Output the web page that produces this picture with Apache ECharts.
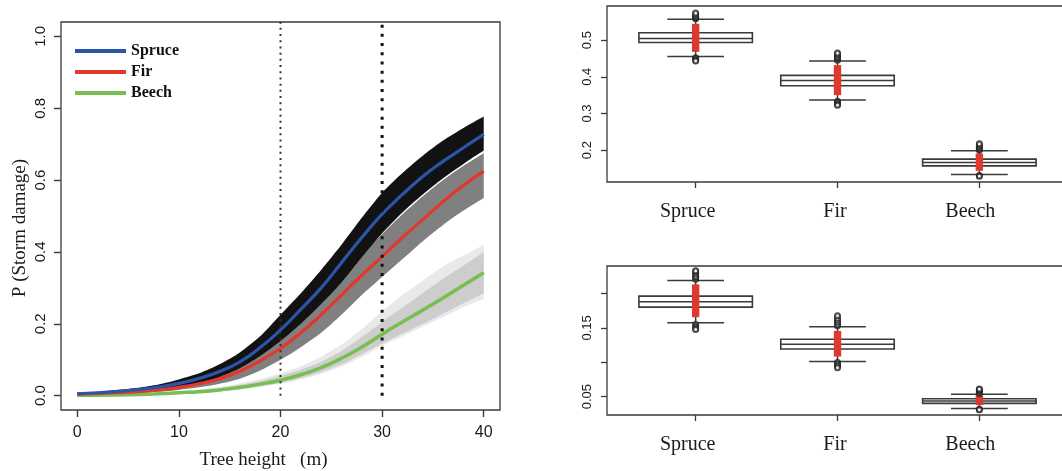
<!DOCTYPE html>
<html><head><meta charset="utf-8">
<script src="https://cdn.jsdelivr.net/npm/echarts@6/dist/echarts.min.js"></script>
<style>html,body{margin:0;padding:0;background:#fff}#c{width:1062px;height:471px}</style>
</head><body><div id="c"></div>
<script>
// ---------- Left panel: P(storm damage) vs tree height ----------
const heights = [0,2,4,6,8,10,12,14,16,18,20,22,24,26,28,30,32,34,36,38,40];
const spruceMean = [0.005,0.008,0.012,0.017,0.024,0.034,0.048,0.067,0.094,0.134,0.183,0.24,0.30,0.37,0.44,0.505,0.56,0.61,0.652,0.69,0.727];
const spruceLow  = [0.003,0.005,0.008,0.012,0.017,0.025,0.036,0.052,0.076,0.11,0.152,0.2,0.255,0.315,0.385,0.452,0.51,0.56,0.605,0.645,0.682];
const spruceHigh = [0.008,0.011,0.016,0.022,0.031,0.045,0.062,0.087,0.12,0.165,0.225,0.285,0.35,0.42,0.495,0.565,0.62,0.668,0.71,0.745,0.777];
const firMean = [0.004,0.006,0.008,0.011,0.016,0.023,0.033,0.047,0.068,0.097,0.132,0.175,0.225,0.28,0.335,0.387,0.44,0.49,0.54,0.585,0.625];
const firLow  = [0.002,0.004,0.006,0.008,0.011,0.016,0.023,0.033,0.047,0.07,0.1,0.135,0.175,0.225,0.28,0.33,0.38,0.43,0.475,0.515,0.55];
const firHigh = [0.006,0.008,0.011,0.015,0.021,0.03,0.044,0.063,0.09,0.126,0.17,0.22,0.28,0.34,0.395,0.45,0.505,0.555,0.6,0.64,0.675];
const beechMean = [0.001,0.001,0.002,0.003,0.005,0.008,0.011,0.016,0.023,0.032,0.043,0.058,0.078,0.104,0.135,0.171,0.205,0.238,0.272,0.307,0.342];
const beechLow  = [0.0,0.001,0.001,0.002,0.004,0.006,0.008,0.012,0.018,0.026,0.036,0.049,0.066,0.087,0.115,0.145,0.172,0.2,0.228,0.257,0.285];
const beechHigh = [0.002,0.002,0.003,0.005,0.007,0.011,0.015,0.021,0.03,0.041,0.055,0.072,0.094,0.124,0.163,0.205,0.245,0.285,0.325,0.362,0.40];
const beechFaintLow  = [0.0,0.001,0.001,0.002,0.003,0.005,0.007,0.011,0.016,0.024,0.033,0.045,0.061,0.081,0.108,0.138,0.165,0.192,0.219,0.246,0.27];
const beechFaintHigh = [0.002,0.003,0.004,0.006,0.008,0.012,0.017,0.024,0.034,0.046,0.062,0.082,0.108,0.142,0.185,0.235,0.28,0.32,0.36,0.39,0.42];
const refHeights = [20, 30];
const leftXTicks = [0,10,20,30,40];
const leftYTicks = [0,0.2,0.4,0.6,0.8,1.0];

// ---------- Right panels: boxplots ----------
const categories = ['Spruce','Fir','Beech'];
// [q1, median, q3, whiskerLow, whiskerHigh]
const topBoxes = [[0.4936,0.5045,0.520,0.4555,0.557],[0.3754,0.390,0.4037,0.3364,0.4427],[0.157,0.1664,0.1755,0.1337,0.198]];
const topRed = [[0.468,0.5445],[0.350,0.4318],[0.1436,0.191]];
const topOutliers = [[0.558,0.561,0.563,0.566,0.570,0.574,0.452,0.449,0.446,0.443],[0.445,0.449,0.452,0.456,0.461,0.465,0.333,0.330,0.326,0.322],[0.200,0.203,0.206,0.210,0.214,0.217,0.131,0.129]];
const topYTicks = [0.2,0.3,0.4,0.5];
const topYLabels = [0.2,0.3,0.4,0.5];
const botBoxes = [[0.180,0.1878,0.196,0.1572,0.2189],[0.1193,0.1262,0.1335,0.101,0.1514],[0.0403,0.0437,0.0471,0.033,0.0534]];
const botRed = [[0.1655,0.2131],[0.1083,0.1456],[0.0378,0.0519]];
const botOutliers = [[0.2205,0.223,0.225,0.228,0.231,0.233,0.155,0.152,0.1495,0.1476],[0.153,0.155,0.158,0.161,0.164,0.1674,0.0995,0.097,0.0945,0.0922],[0.0545,0.0565,0.0585,0.060,0.0612,0.0318,0.031]];
const botYTicks = [0.05,0.10,0.15,0.20];
const botYLabels = [0.05,0.15];

const txt = '#1a1a1a', frame = '#3a3a3a';
const sans = 'Liberation Sans', serif = 'Liberation Serif';

function bandSeries(lo, hi, color, z) {
  return {type:'custom', xAxisIndex:0, yAxisIndex:0, z:z, silent:true,
    data: heights.map((h,i)=>[h, lo[i], hi[i]]),
    renderItem:(params, api)=>{
      if (params.dataIndex !== 0) return null;
      const up = heights.map((h,i)=>api.coord([h, hi[i]]));
      const dn = heights.map((h,i)=>api.coord([h, lo[i]])).reverse();
      // duplicate end points so the smoothed outline keeps sharp corners at both ends
      const pts = [up[0]].concat(up, [up[up.length-1], dn[0]], dn, [dn[dn.length-1]]);
      return {type:'polygon', shape:{points:pts, smooth:0.25}, style:{fill:color}};
    }};
}
function meanSeries(name, vals, color, w, z) {
  return {type:'line', name:name, xAxisIndex:0, yAxisIndex:0, smooth:true, symbol:'none', z:z,
    data: heights.map((h,i)=>[h, vals[i]]), itemStyle:{color:color}, lineStyle:{color:color, width:w}};
}

function boxRender(params, api) {
  const x = api.value(0), q1 = api.value(1), md = api.value(2), q3 = api.value(3), wl = api.value(4), wh = api.value(5);
  const a = api.coord([x-0.4, q3]), b = api.coord([x+0.4, q1]);
  const m1 = api.coord([x-0.4, md]), m2 = api.coord([x+0.4, md]);
  const s1 = api.coord([x-0.2, wh]), s2 = api.coord([x+0.2, wh]);
  const t1 = api.coord([x-0.2, wl]), t2 = api.coord([x+0.2, wl]);
  const c3 = api.coord([x, q3]), cwh = api.coord([x, wh]), c1 = api.coord([x, q1]), cwl = api.coord([x, wl]);
  const ls = {stroke: frame, lineWidth: 1.5, fill: null};
  return {type:'group', children:[
    {type:'line', shape:{x1:c3[0], y1:c3[1], x2:cwh[0], y2:cwh[1]}, style:ls},
    {type:'line', shape:{x1:c1[0], y1:c1[1], x2:cwl[0], y2:cwl[1]}, style:ls},
    {type:'rect', shape:{x:a[0], y:a[1], width:b[0]-a[0], height:b[1]-a[1]}, style:{fill:'#fff', stroke:frame, lineWidth:1.6}},
    {type:'line', shape:{x1:m1[0], y1:m1[1], x2:m2[0], y2:m2[1]}, style:ls},
    {type:'line', shape:{x1:s1[0], y1:s1[1], x2:s2[0], y2:s2[1]}, style:ls},
    {type:'line', shape:{x1:t1[0], y1:t1[1], x2:t2[0], y2:t2[1]}, style:ls}
  ]};
}
function redRender(params, api) {
  const x = api.value(0);
  const a = api.coord([x-0.026, api.value(2)]), b = api.coord([x+0.026, api.value(1)]);
  return {type:'rect', shape:{x:a[0], y:a[1], width:b[0]-a[0], height:b[1]-a[1]}, style:{fill:'#e0382e'}};
}
function panelSeries(idx, boxes, reds, outs) {
  return [
    {type:'custom', xAxisIndex:idx, yAxisIndex:idx, renderItem:boxRender, z:2, silent:true,
     data: boxes.map((b,i)=>[i+1].concat(b))},
    {type:'custom', xAxisIndex:idx, yAxisIndex:idx, renderItem:redRender, z:3, silent:true,
     data: reds.map((r,i)=>[i+1, r[0], r[1]])},
    {type:'scatter', xAxisIndex:idx, yAxisIndex:idx, z:4, silent:true, symbol:'emptyCircle', symbolSize:5,
     itemStyle:{color:'#222', borderColor:'#222', borderWidth:1.2},
     data: outs.flatMap((arr,i)=>arr.map(v=>[i+1, v]))}
  ];
}

function catAxis(idx) {
  return {type:'value', gridIndex:idx, min:0.375, max:3.625, splitLine:{show:false}, axisLine:{show:false, onZero:false},
    axisTick:{show:true, customValues:[1,2,3], length:6, lineStyle:{color:frame, width:1.3}},
    axisLabel:{customValues:[1,2,3], margin:20,
      formatter:(v)=>{const n = categories[Math.round(v)-1]; return '{' + n + '|' + n + '}';},
      rich:{
        Spruce:{fontFamily:serif, fontSize:20, color:txt, padding:[0,16,0,0]},
        Fir:{fontFamily:serif, fontSize:20, color:txt, padding:[0,5,0,0]},
        Beech:{fontFamily:serif, fontSize:20, color:txt, padding:[0,18,0,0]}
      }}};
}
function valAxis(idx, min, max, ticks, labels, dec) {
  return {type:'value', gridIndex:idx, min:min, max:max, splitLine:{show:false}, axisLine:{show:false, onZero:false},
    axisTick:{show:true, customValues:ticks, length:6, lineStyle:{color:frame, width:1.3}},
    axisLabel:{customValues:labels, rotate:90, margin:13, fontFamily:sans, fontSize:13, color:txt,
      formatter:(v)=>v.toFixed(dec)}};
}

const series = [].concat(
  [
    bandSeries(beechFaintLow, beechFaintHigh, '#e9e9e9', 1),
    bandSeries(beechLow, beechHigh, '#cdcdcd', 2),
    bandSeries(firLow, firHigh, '#808080', 3),
    bandSeries(spruceLow, spruceHigh, '#121212', 4),
    meanSeries('Beech', beechMean, '#76bf50', 3.5, 6),
    meanSeries('Fir', firMean, '#e2372c', 3.2, 7),
    meanSeries('Spruce', spruceMean, '#2b55a8', 3.2, 8),
    {type:'line', name:'ref20', xAxisIndex:0, yAxisIndex:0, symbol:'none', silent:true, z:9,
     data:[[refHeights[0],0],[refHeights[0],1.04]], lineStyle:{color:'#333', width:2, type:[2,4.2]}},
    {type:'line', name:'ref30', xAxisIndex:0, yAxisIndex:0, symbol:'none', silent:true, z:9,
     data:[[refHeights[1],0],[refHeights[1],1.04]], lineStyle:{color:'#111', width:3, type:[3,6.2]}}
  ],
  panelSeries(1, topBoxes, topRed, topOutliers),
  panelSeries(2, botBoxes, botRed, botOutliers)
);

const gridBase = {show:true, borderColor:frame, borderWidth:1.3, backgroundColor:'transparent', containLabel:false, outerBoundsMode:'none'};
const option = {
  animation:false,
  backgroundColor:'#fff',
  grid:[
    Object.assign({left:61, top:22, width:439, height:388}, gridBase),
    Object.assign({left:607, top:6, width:461, height:176}, gridBase),
    Object.assign({left:607, top:266, width:461, height:149}, gridBase)
  ],
  legend:{data:['Spruce','Fir','Beech'], orient:'vertical', left:75, top:41, padding:0, itemWidth:51, itemHeight:4, itemGap:1, icon:'rect',
    selectedMode:false,
    textStyle:{fontFamily:serif, fontWeight:'bold', fontSize:16, color:'#111', lineHeight:20}},
  xAxis:[
    {type:'value', gridIndex:0, min:-1.6, max:41.6, splitLine:{show:false}, axisLine:{show:false, onZero:false},
     axisTick:{show:true, customValues:leftXTicks, length:7, lineStyle:{color:frame, width:1.4}},
     axisLabel:{customValues:leftXTicks, margin:15, fontFamily:sans, fontSize:16, color:txt},
     name:'Tree height   (m)', nameLocation:'middle', nameGap:41,
     nameTextStyle:{fontFamily:serif, fontSize:19, color:txt, padding:[0,34,0,0]}},
    catAxis(1), catAxis(2)
  ],
  yAxis:[
    {type:'value', gridIndex:0, min:-0.04, max:1.04, splitLine:{show:false}, axisLine:{show:false, onZero:false},
     axisTick:{show:true, customValues:leftYTicks, length:7, lineStyle:{color:frame, width:1.4}},
     axisLabel:{customValues:leftYTicks, rotate:90, margin:13, fontFamily:sans, fontSize:15, color:txt, formatter:(v)=>v.toFixed(1)},
     name:'P (Storm damage)', nameLocation:'middle', nameGap:31,
     nameTextStyle:{fontFamily:serif, fontSize:19, color:txt, padding:[0,24,0,0]}},
    valAxis(1, 0.113, 0.593, topYTicks, topYLabels, 1),
    valAxis(2, 0.0234, 0.2398, botYTicks, botYLabels, 2)
  ],
  series: series
};
const chart = echarts.init(document.getElementById('c'), null, {renderer:'canvas'});
chart.setOption(option);
</script></body></html>
